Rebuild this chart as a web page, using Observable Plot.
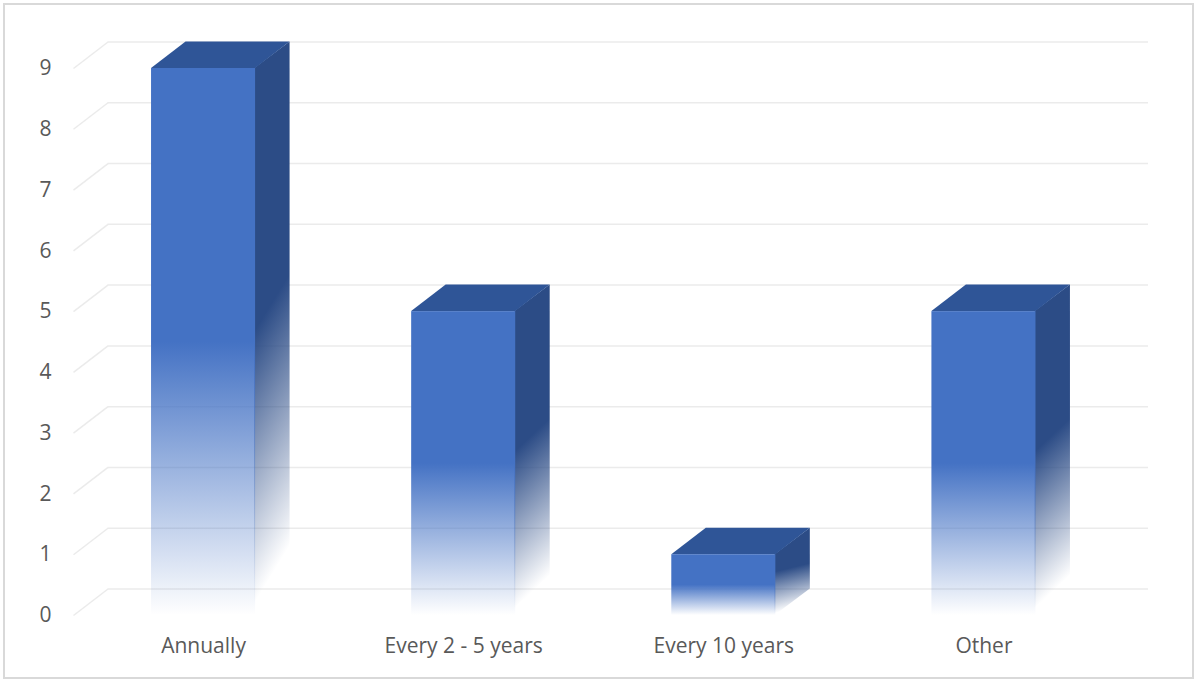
<!DOCTYPE html>
<html><head><meta charset="utf-8">
<script src="https://cdn.jsdelivr.net/npm/d3@7"></script>
<script src="https://cdn.jsdelivr.net/npm/@observablehq/plot@0.6"></script>
<style>
html,body{margin:0;padding:0;background:#fff;}
#wrap{position:relative;width:1197px;height:682px;overflow:hidden;}
#frame{position:absolute;left:3px;top:3px;width:1187px;height:672px;border:2px solid #d9d9d9;pointer-events:none;}
#chart{position:absolute;left:0;top:0;}
</style></head><body>
<div id="wrap"><div id="chart"></div><div id="frame"></div></div>
<script>
const categories = ["Annually", "Every 2 - 5 years", "Every 10 years", "Other"];
const values = [9, 5, 1, 5];
const yTicks = [0, 1, 2, 3, 4, 5, 6, 7, 8, 9];

const W = 1197, H = 682, mL = 73, mR = 83.5, mT = 68, mB = 67;
const depthPx = {x: 34.5, y: 26.5};
const barFrac = 0.4;
const yMax = 9;
const kx = (W - mL - mR) / categories.length, ky = (H - mT - mB) / yMax;
const dxU = depthPx.x / kx, dyU = depthPx.y / ky;
const seamU = 0.8 / kx;

const bars = categories.map((c, i) => ({cat: c, v: values[i], x1: i + 0.5 - barFrac / 2, x2: i + 0.5 + barFrac / 2}));
const topFaces = bars.flatMap(b => [
  {cat: b.cat, x: b.x1, y1: b.v, y2: b.v},
  {cat: b.cat, x: b.x1 + dxU, y1: b.v, y2: b.v + dyU},
  {cat: b.cat, x: b.x2, y1: b.v, y2: b.v + dyU},
  {cat: b.cat, x: b.x2 + dxU, y1: b.v + dyU, y2: b.v + dyU}
]);
const sideFaces = bars.flatMap(b => [
  {cat: b.cat, x: b.x2 - seamU, y1: 0, y2: b.v},
  {cat: b.cat, x: b.x2 + dxU, y1: dyU, y2: b.v + dyU}
]);

const svg = Plot.plot({
  width: W, height: H,
  marginLeft: mL, marginRight: mR, marginTop: mT, marginBottom: mB,
  style: {fontFamily: "'Open Sans', sans-serif", fontSize: "21px", color: "#595959", background: "#fff"},
  x: {domain: [0, categories.length]},
  y: {domain: [0, yMax]},
  marks: [
    Plot.ruleY(yTicks, {y: d => d, dx: depthPx.x, dy: -depthPx.y, stroke: "#ebebeb", strokeWidth: 1.5}),
    Plot.link(yTicks, {x1: 0, x2: dxU, y1: d => d, y2: d => d + dyU, stroke: "#ebebeb", strokeWidth: 1.5}),
    Plot.areaY(sideFaces, {x: "x", y1: "y1", y2: "y2", z: "cat", fill: "url(#gSide)"}),
    Plot.areaY(topFaces, {x: "x", y1: "y1", y2: "y2", z: "cat", fill: "#2F5597"}),
    Plot.rectY(bars, {x1: "x1", x2: "x2", y1: 0, y2: "v", fill: "url(#gFront)"}),
    Plot.axisY(yTicks, {tickSize: 0, tickPadding: 22, label: null, tickFormat: d => String(d)}),
    Plot.axisX(bars.map((b, i) => i + 0.5), {tickSize: 0, tickPadding: 23, label: null, tickFormat: d => categories[Math.floor(d)]})
  ]
});
svg.insertAdjacentHTML("afterbegin", `<defs>
<linearGradient id="gFront" x1="0" y1="0" x2="0" y2="1">
<stop offset="0" stop-color="#4472C4"/>
<stop offset="0.5" stop-color="#4472C4"/>
<stop offset="1" stop-color="#4472C4" stop-opacity="0"/>
</linearGradient>
<linearGradient id="gSide" x1="0" y1="0" x2="0.1" y2="1">
<stop offset="0" stop-color="#2C4C86"/>
<stop offset="0.5" stop-color="#2C4C86"/>
<stop offset="0.97" stop-color="#2C4C86" stop-opacity="0"/>
</linearGradient>
</defs>`);
document.getElementById("chart").appendChild(svg);
</script>
</body></html>
